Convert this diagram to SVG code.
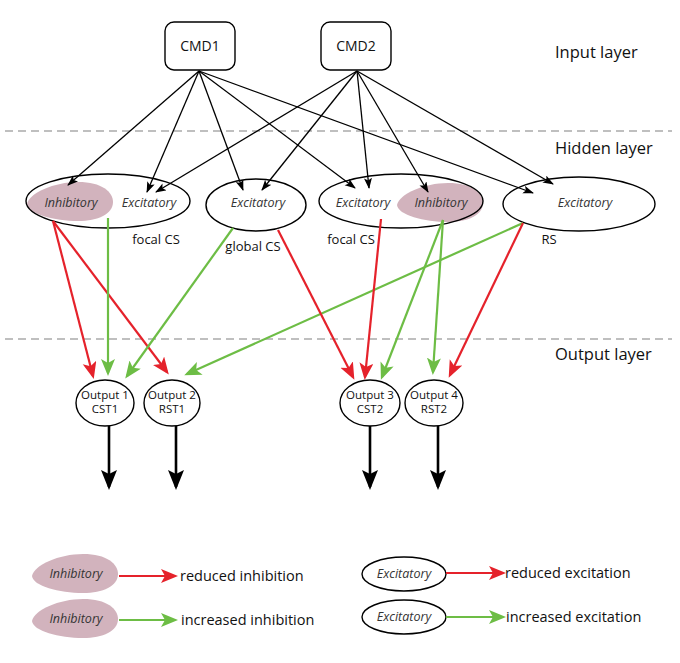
<svg xmlns="http://www.w3.org/2000/svg" width="680" height="663" viewBox="0 0 680 663">
<style>
text{font-family:"Open Sans","Noto Sans","Liberation Sans",sans-serif;fill:#111}
.it{font-style:italic;font-size:12.5px;fill:#333}
.lay{font-size:16.5px}
.lab{font-size:13px}
.out{font-size:11.5px}
.leg{font-size:14.5px}
.node{fill:#fff;stroke:#000;stroke-width:1.4}
.nodef{fill:#fff;stroke:none}
.nodeo{fill:none;stroke:#000;stroke-width:1.4}
.blob{fill:#d2b3bd}
.blk{stroke:#000;stroke-width:1.3;fill:none;marker-end:url(#mb)}
.red{stroke:#e5222b;stroke-width:2.2;fill:none;marker-end:url(#mr)}
.grn{stroke:#6dbd45;stroke-width:2.2;fill:none;marker-end:url(#mg)}
.dwn{stroke:#000;stroke-width:2.6;fill:none;marker-end:url(#md)}
.dash{stroke:#aaa;stroke-width:1.4;stroke-dasharray:8 5}
</style>
<defs>
<marker id="mb" markerUnits="userSpaceOnUse" markerWidth="12" markerHeight="10" refX="10" refY="4" orient="auto"><path d="M0,0 L11,4 L0,8 L2.5,4 Z" fill="#000"/></marker>
<marker id="mr" markerUnits="userSpaceOnUse" markerWidth="18" markerHeight="16" refX="14" refY="7" orient="auto"><path d="M0,0 L17,7 L0,14 L4,7 Z" fill="#e5222b"/></marker>
<marker id="mg" markerUnits="userSpaceOnUse" markerWidth="18" markerHeight="16" refX="14" refY="7" orient="auto"><path d="M0,0 L17,7 L0,14 L4,7 Z" fill="#6dbd45"/></marker>
<marker id="md" markerUnits="userSpaceOnUse" markerWidth="20" markerHeight="18" refX="17" refY="8" orient="auto"><path d="M0,0 L20,8 L0,16 L4,8 Z" fill="#000"/></marker>
<path id="blobshape" d="M-43,2 C-41,-9 -16,-20 8,-20 C32,-20 43,-10 43,0 C43,12 28,19 8,19 C-16,19 -42,12 -43,2 Z"/>
</defs>

<line class="dash" x1="5" y1="131" x2="672" y2="131"/>
<line class="dash" x1="5" y1="339" x2="672" y2="339"/>
<text class="lay" x="555" y="58">Input layer</text>
<text class="lay" x="555" y="154">Hidden layer</text>
<text class="lay" x="555" y="360">Output layer</text>

<g id="cmd1"><rect class="node" x="165" y="22" width="70" height="48" rx="9"/><text class="lab" x="200" y="51" text-anchor="middle" style="font-size:14px">CMD1</text></g>
<g id="cmd2"><rect class="node" x="321" y="22" width="70" height="48" rx="9"/><text class="lab" x="356" y="51" text-anchor="middle" style="font-size:14px">CMD2</text></g>

<g id="focalcs1">
<ellipse class="nodef" cx="108" cy="201" rx="82" ry="27"/>
<use href="#blobshape" class="blob" transform="translate(70,202)"/>
<ellipse class="nodeo" cx="108" cy="201" rx="82" ry="27"/>
<text class="it" x="71" y="207" text-anchor="middle">Inhibitory</text>
<text class="it" x="149" y="207" text-anchor="middle">Excitatory</text>
<text class="lab" x="156" y="244" text-anchor="middle">focal CS</text>
</g>
<g id="globalcs">
<ellipse class="node" cx="256" cy="205" rx="50" ry="26"/>
<text class="it" x="258" y="207" text-anchor="middle">Excitatory</text>
<text class="lab" x="253" y="251" text-anchor="middle">global CS</text>
</g>
<g id="focalcs2">
<ellipse class="nodef" cx="401" cy="201" rx="82" ry="27"/>
<use href="#blobshape" class="blob" transform="translate(440,203)"/>
<ellipse class="nodeo" cx="401" cy="201" rx="82" ry="27"/>
<text class="it" x="363" y="207" text-anchor="middle">Excitatory</text>
<text class="it" x="441" y="207" text-anchor="middle">Inhibitory</text>
<text class="lab" x="351" y="244" text-anchor="middle">focal CS</text>
</g>
<g id="rs">
<ellipse class="node" cx="579" cy="204" rx="76" ry="27"/>
<text class="it" x="585" y="207" text-anchor="middle">Excitatory</text>
<text class="lab" x="549" y="244" text-anchor="middle">RS</text>
</g>

<g id="out1"><ellipse class="node" cx="105" cy="403" rx="29" ry="23"/><text class="out" x="105" y="399" text-anchor="middle">Output 1</text><text class="out" x="105" y="413" text-anchor="middle">CST1</text></g>
<g id="out2"><ellipse class="node" cx="172" cy="403" rx="28" ry="23"/><text class="out" x="172" y="399" text-anchor="middle">Output 2</text><text class="out" x="172" y="413" text-anchor="middle">RST1</text></g>
<g id="out3"><ellipse class="node" cx="370" cy="403" rx="30" ry="23"/><text class="out" x="370" y="399" text-anchor="middle">Output 3</text><text class="out" x="370" y="413" text-anchor="middle">CST2</text></g>
<g id="out4"><ellipse class="node" cx="434" cy="403" rx="29" ry="23"/><text class="out" x="434" y="399" text-anchor="middle">Output 4</text><text class="out" x="434" y="413" text-anchor="middle">RST2</text></g>

<g id="connectors">
<line class="blk" x1="199" y1="71" x2="68" y2="185"/>
<line class="blk" x1="199" y1="71" x2="147" y2="192"/>
<line class="blk" x1="199" y1="71" x2="243" y2="190"/>
<line class="blk" x1="199" y1="71" x2="355" y2="188"/>
<line class="blk" x1="199" y1="71" x2="533" y2="193"/>
<line class="blk" x1="357" y1="71" x2="156" y2="192"/>
<line class="blk" x1="357" y1="71" x2="262" y2="190"/>
<line class="blk" x1="357" y1="71" x2="369" y2="188"/>
<line class="blk" x1="357" y1="71" x2="428" y2="192"/>
<line class="blk" x1="357" y1="71" x2="553" y2="184"/>

<line class="red" x1="53" y1="221" x2="93" y2="376"/>
<line class="red" x1="53" y1="221" x2="167" y2="372"/>
<line class="grn" x1="108" y1="218" x2="108" y2="373"/>
<line class="grn" x1="233" y1="228" x2="127" y2="376"/>
<line class="grn" x1="523" y1="223" x2="187" y2="374"/>
<line class="red" x1="278" y1="230" x2="353" y2="377"/>
<line class="red" x1="381" y1="219" x2="365" y2="377"/>
<line class="grn" x1="443" y1="220" x2="382" y2="377"/>
<line class="grn" x1="443" y1="220" x2="433" y2="372"/>
<line class="red" x1="523" y1="223" x2="450" y2="375"/>

<line class="dwn" x1="109" y1="426" x2="109" y2="487"/>
<line class="dwn" x1="176" y1="426" x2="176" y2="487"/>
<line class="dwn" x1="370" y1="426" x2="370" y2="487"/>
<line class="dwn" x1="438" y1="426" x2="438" y2="487"/>
</g>

<g id="legend">
<use href="#blobshape" class="blob" transform="translate(75,574)"/>
<text class="it" x="76" y="578" text-anchor="middle">Inhibitory</text>
<line class="red" x1="119" y1="576" x2="175" y2="576"/>
<text class="leg" x="180" y="581">reduced inhibition</text>
<use href="#blobshape" class="blob" transform="translate(75,619)"/>
<text class="it" x="76" y="623" text-anchor="middle">Inhibitory</text>
<line class="grn" x1="119" y1="620" x2="175" y2="620"/>
<text class="leg" x="181" y="625">increased inhibition</text>
<ellipse class="node" cx="404" cy="574" rx="42" ry="17"/>
<text class="it" x="404" y="578" text-anchor="middle">Excitatory</text>
<line class="red" x1="446" y1="573" x2="503" y2="573"/>
<text class="leg" x="505" y="578">reduced excitation</text>
<ellipse class="node" cx="404" cy="617" rx="42" ry="17"/>
<text class="it" x="404" y="621" text-anchor="middle">Excitatory</text>
<line class="grn" x1="446" y1="617" x2="503" y2="617"/>
<text class="leg" x="506" y="622">increased excitation</text>
</g>
</svg>
